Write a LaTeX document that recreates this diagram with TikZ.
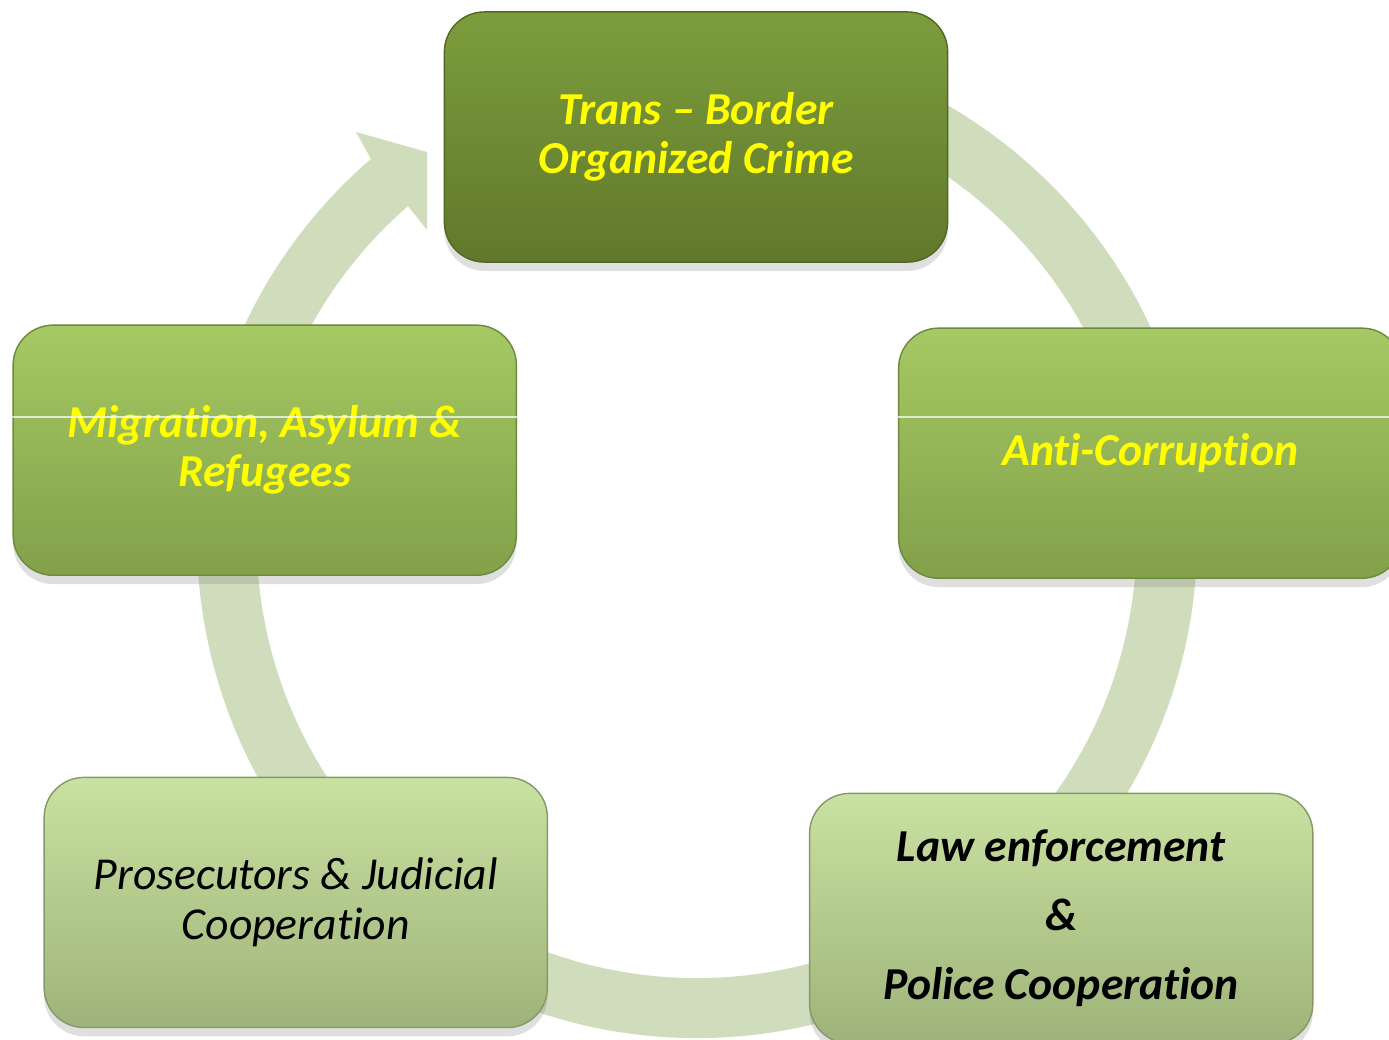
\documentclass[tikz,border=0pt]{standalone}
\usepackage{fontspec}
\setmainfont{Carlito}[Ligatures=NoCommon]
\usetikzlibrary{positioning, shadows}
\definecolor{ringgreen}{RGB}{207,221,189}
\definecolor{darktop}{RGB}{124,157,60}
\definecolor{darkbot}{RGB}{97,120,44}
\definecolor{midtop}{RGB}{165,201,99}
\definecolor{midbot}{RGB}{131,160,74}
\definecolor{paletop}{RGB}{201,225,161}
\definecolor{palebot}{RGB}{158,179,121}
\definecolor{labelyellow}{RGB}{255,255,0}
\tikzstyle{box} = [rectangle, rounded corners=4mm,
minimum width=5.03cm,
minimum height=2.5cm,
align=center,
drop shadow={shadow xshift=0pt, shadow yshift=-2.5pt, opacity=0.25}]
\tikzstyle{darkbox} = [box,
top color=darktop, bottom color=darkbot,
draw=darkbot!85!black, text=labelyellow,
font=\bfseries\itshape\fontsize{13}{13.9}\selectfont]
\tikzstyle{midbox} = [box,
top color=midtop, bottom color=midbot,
draw=midbot!85!black, text=labelyellow,
font=\bfseries\itshape\fontsize{13}{13.9}\selectfont]
\tikzstyle{palebox} = [box,
top color=paletop, bottom color=palebot,
draw=palebot!85!black, text=black]
\tikzstyle{gloss} = [white, opacity=0.7, line width=0.4pt]
\begin{document}
\begin{tikzpicture}[x=0.01cm, y=0.01cm]
\useasboundingbox (0,0) rectangle (1389,-1039);

% cycle arrow behind the boxes
\coordinate (hub) at (697,-538);
\fill[ringgreen] ([shift={(100:500)}]hub) arc[start angle=100, end angle=-229.3, radius=500]
  -- (356,-132) -- (427,-152) -- (427,-230) -- (408,-206)
  arc[start angle=-229, end angle=100, radius=440] -- cycle;

\node (toc) [darkbox] at (696,-137) {Trans -- Border\\Organized Crime};
\node (mig) [midbox, below of=toc, node distance=3.13cm, xshift=-4.31cm] {Migration, Asylum \&\\Refugees};
\node (acr) [midbox, below of=toc, node distance=3.16cm, xshift=4.54cm] {Anti-Corruption};
\node (pjc) [palebox, below of=mig, node distance=4.52cm, xshift=0.31cm,
  font=\itshape\fontsize{13}{14.2}\selectfont] {Prosecutors \& Judicial\\Cooperation};
\node (lep) [palebox, below of=acr, node distance=4.65cm, xshift=-0.89cm,
  font=\bfseries\itshape\fontsize{13}{19.6}\selectfont] {Law enforcement\\\&\\Police Cooperation};

\draw[gloss] ([yshift=0.33cm]mig.west) -- ([yshift=0.33cm]mig.east);
\draw[gloss] ([yshift=0.36cm]acr.west) -- ([yshift=0.36cm]acr.east);

\end{tikzpicture}
\end{document}
